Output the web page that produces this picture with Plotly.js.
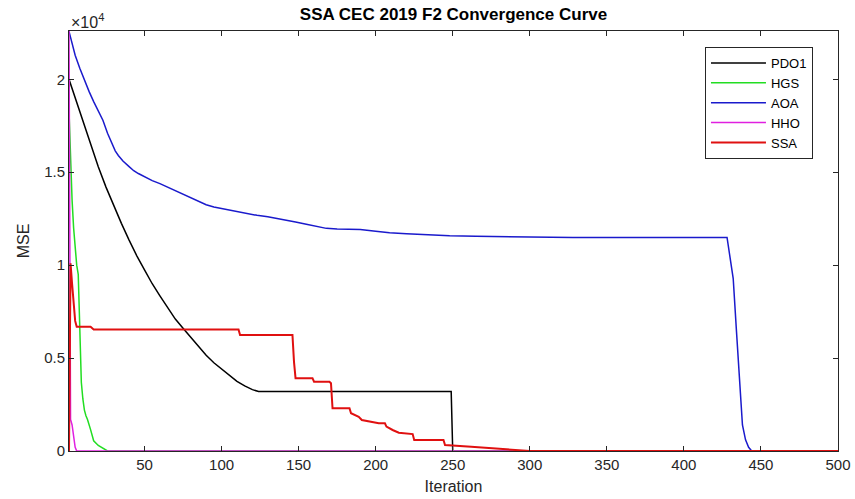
<!DOCTYPE html>
<html>
<head>
<meta charset="utf-8">
<script src="https://cdn.plot.ly/plotly-3.0.1.min.js"></script>
<style>html,body{margin:0;padding:0;background:#fff;}#chart{width:855px;height:499px;}</style>
</head>
<body>
<div id="chart"></div>
<script>
// ---- data ----
var seriesNames = ["PDO1", "HGS", "AOA", "HHO", "SSA"];

var pdoX = [1, 5, 10, 15, 20, 25, 30, 35, 40, 45, 50, 55, 60, 65, 70, 75, 80, 85, 90, 95, 100, 105, 110, 115, 120, 124, 249, 250, 500];
var pdoY = [20000, 19000, 17700, 16500, 15300, 14200, 13200, 12250, 11350, 10500, 9750, 9000, 8350, 7700, 7100, 6600, 6100, 5600, 5150, 4750, 4400, 4050, 3750, 3500, 3300, 3200, 3200, 0, 0];

var hgsX = [1, 2, 3, 4, 5, 6, 7, 8, 9, 10, 11, 12, 13, 15, 17, 20, 24, 26, 500];
var hgsY = [18300, 15500, 13500, 12000, 11000, 10000, 9500, 6200, 3700, 2800, 2200, 1900, 1700, 1150, 550, 300, 100, 0, 0];

var aoaX = [1, 3, 5, 8, 11, 14, 17, 20, 23, 26, 29, 31, 33, 36, 40, 43, 46, 50, 55, 60, 65, 70, 75, 80, 85, 90, 95, 100, 108, 116, 123, 130, 136, 142, 148, 155, 162, 168, 175, 190, 200, 209, 220, 230, 248, 265, 285, 305, 328, 428, 430, 432, 434, 436, 438, 440, 442, 444, 500];
var aoaY = [22580, 21900, 21300, 20600, 19950, 19350, 18800, 18300, 17800, 17100, 16500, 16150, 15900, 15600, 15300, 15080, 14930, 14750, 14550, 14390, 14200, 14030, 13840, 13650, 13450, 13250, 13130, 13050, 12900, 12760, 12680, 12600, 12520, 12420, 12320, 12200, 12080, 11980, 11950, 11920, 11820, 11740, 11690, 11650, 11580, 11550, 11520, 11500, 11490, 11490, 10500, 9280, 6600, 3900, 1400, 600, 200, 0, 0];

var hhoX = [1, 2, 3, 4, 5, 6, 500];
var hhoY = [22600, 1700, 1400, 700, 200, 0, 0];

var ssaX = [1, 2, 3, 4, 5, 6, 15, 17, 111, 112, 146, 147, 148, 159, 160, 170, 171, 172, 183, 184, 189, 191, 196, 202, 206, 207, 211, 215, 224, 225, 244, 245, 262, 267, 278, 292, 300, 500];
var ssaY = [0, 10100, 9000, 7900, 7000, 6680, 6680, 6540, 6540, 6240, 6240, 4800, 3920, 3920, 3730, 3730, 3650, 2300, 2300, 2030, 1840, 1670, 1580, 1490, 1490, 1310, 1130, 985, 910, 590, 590, 320, 230, 200, 145, 50, 0, 0];

var xTickVals = [50, 100, 150, 200, 250, 300, 350, 400, 450, 500];
var yTickVals = [0, 5000, 10000, 15000, 20000];
var yTickText = ["0", "0.5", "1", "1.5", "2"];

// ---- chart ----
var FONT = "Liberation Sans, Arial, Helvetica, sans-serif";
var AX = "#262626";

function tr(name, x, y, color, width) {
  return {type: "scatter", mode: "lines", name: name, x: x, y: y,
          line: {color: color, width: width}, hoverinfo: "skip"};
}

var data = [
  tr(seriesNames[0], pdoX, pdoY, "#000000", 1.5),
  tr(seriesNames[1], hgsX, hgsY, "#22dd22", 1.5),
  tr(seriesNames[2], aoaX, aoaY, "#1a1acc", 1.5),
  tr(seriesNames[3], hhoX, hhoY, "#e020e0", 1.5),
  tr(seriesNames[4], ssaX, ssaY, "#e01010", 2)
];

var axisCommon = {
  showgrid: false, zeroline: false, showline: true, linecolor: AX, linewidth: 1,
  mirror: "ticks", ticks: "inside", ticklen: 5, tickcolor: AX, tickwidth: 1,
  tickfont: {family: FONT, size: 15, color: AX}
};

var layout = {
  width: 855, height: 499,
  margin: {l: 69, r: 17, t: 31, b: 48},
  paper_bgcolor: "#ffffff", plot_bgcolor: "#ffffff",
  font: {family: FONT, color: AX},
  title: {text: "<b>SSA CEC 2019 F2 Convergence Curve</b>", font: {family: FONT, size: 17, color: "#000"},
          x: 0.5, xref: "paper", y: 0.972, yref: "container", yanchor: "middle"},
  xaxis: Object.assign({}, axisCommon, {
    range: [1, 500], tickmode: "array", tickvals: xTickVals,
    title: {text: "Iteration", font: {family: FONT, size: 16, color: AX}, standoff: 8}
  }),
  yaxis: Object.assign({}, axisCommon, {
    range: [0, 22600], tickmode: "array", tickvals: yTickVals, ticktext: yTickText,
    title: {text: "MSE", font: {family: FONT, size: 16, color: AX}, standoff: 10}
  }),
  showlegend: true,
  legend: {x: 0.827, y: 0.962, xanchor: "left", yanchor: "top",
           bgcolor: "#ffffff", bordercolor: AX, borderwidth: 1,
           font: {family: FONT, size: 13, color: "#000"}, itemwidth: 55,
           tracegroupgap: 0},
  annotations: [{
    text: "×10<sup>4</sup>", xref: "paper", yref: "paper", x: 0, y: 1,
    xanchor: "left", yanchor: "bottom", showarrow: false,
    font: {family: FONT, size: 16, color: AX}, yshift: -2
  }]
};

Plotly.newPlot("chart", data, layout, {displayModeBar: false, staticPlot: true});
</script>
</body>
</html>
